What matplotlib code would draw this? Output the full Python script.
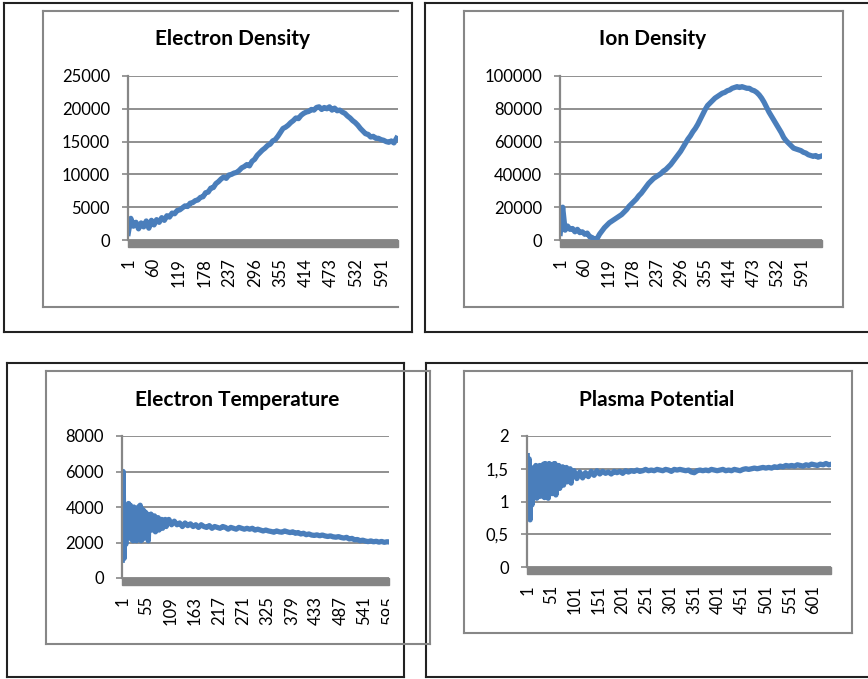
import numpy as np
import matplotlib
matplotlib.use('Agg')
import matplotlib.pyplot as plt
from matplotlib.patches import Rectangle
from matplotlib.transforms import Bbox, TransformedBbox

plt.rcParams['font.family'] = ['Lato', 'DejaVu Sans']

# electron density, every 6th sample starting at 1
ne = [1000, 3300, 2100, 2700, 1700, 2600, 2000, 2900, 1800, 3000,
      2300, 3100, 2700, 3400, 3000, 3700, 3500, 4100, 4000, 4500,
      4600, 4900, 5200, 5100, 5600, 5700, 6000, 6100, 6500, 6600,
      7200, 7300, 7900, 8000, 8600, 8900, 9300, 9600, 9400, 9900,
      10000, 10200, 10300, 10600, 11000, 11200, 11500, 11300, 12000, 12300,
      12900, 13300, 13700, 14000, 14400, 14600, 15100, 15300, 15800, 16400,
      17000, 17200, 17500, 17900, 18200, 18600, 18500, 19000, 19300, 19500,
      19600, 19900, 19800, 20200, 20300, 19900, 20200, 20000, 20300, 19800,
      20100, 19700, 19800, 19500, 19300, 18900, 18600, 18200, 17900, 17500,
      17000, 16600, 16200, 16100, 15700, 15800, 15500, 15500, 15300, 15200,
      15000, 14900, 15100, 14800, 15500]

# ion density, every 6th sample starting at 1
ni = [4000, 20000, 6000, 8500, 6500, 7000, 5000, 6500, 4500, 5000,
      3500, 4200, 2000, 1500, 300, 800, 3500, 5500, 7500, 9000,
      10500, 11500, 12500, 13500, 14500, 15500, 17000, 18500, 20500, 22000,
      23500, 25000, 27000, 28500, 30500, 32500, 34500, 36000, 37500, 38500,
      39500, 40500, 42000, 43000, 44500, 46000, 48000, 50000, 52000, 54000,
      56500, 59000, 61500, 63500, 66000, 68000, 70500, 73500, 76500, 79500,
      82000, 83500, 85000, 86500, 87500, 88500, 89500, 90000, 91000, 91500,
      92500, 93000, 93500, 93000, 93500, 93000, 92500, 92500, 91500, 91000,
      90000, 88500, 86500, 84000, 81000, 78000, 75500, 73000, 70500, 68000,
      65500, 62500, 60500, 59000, 57500, 56000, 55500, 55000, 54500, 53500,
      53000, 52000, 51500, 51000, 51500, 50500, 51000]

# electron temperature: every 2nd sample up to 99, then every 6th
te_early = [1000, 6000, 1100, 3500, 1900, 3800, 3000, 4200, 3600, 4100,
            2200, 3900, 2100, 4000, 3500, 3900, 2100, 3700, 4000, 3300,
            4100, 2100, 3900, 2200, 3800, 3300, 3700, 2400, 3600, 2100,
            3500, 2900, 3600, 2700, 3400, 3000, 3500, 2600, 3300, 3000,
            3400, 2700, 3300, 3100, 3300, 2800, 3200, 3000, 3300, 2900]
te_late = [3300, 3000, 3200, 3000, 3100, 2900, 3100, 2950, 3050, 2900,
           3000, 2850, 3000, 2900, 2850, 2950, 2800, 2900, 2850, 2800,
           2900, 2850, 2750, 2850, 2800, 2750, 2850, 2800, 2750, 2800,
           2750, 2800, 2700, 2750, 2700, 2650, 2700, 2650, 2620, 2580,
           2650, 2600, 2580, 2650, 2600, 2560, 2600, 2520, 2560, 2480,
           2520, 2440, 2480, 2420, 2400, 2430, 2380, 2420, 2370, 2340,
           2370, 2320, 2300, 2330, 2280, 2250, 2290, 2200, 2230, 2150,
           2170, 2100, 2130, 2080, 2050, 2090, 2040, 2070, 2020, 2060,
           2010, 2040, 2030]

# plasma potential: every 2nd sample up to 99, then every 6th
vp_early = [1.70, 0.75, 1.65, 0.72, 1.35, 0.95, 1.45, 1.52, 1.30, 1.55,
            1.05, 1.50, 1.40, 1.55, 1.08, 1.52, 1.35, 1.57, 1.06, 1.58,
            1.45, 1.56, 1.05, 1.58, 1.50, 1.55, 1.12, 1.57, 1.45, 1.58,
            1.10, 1.52, 1.40, 1.55, 1.20, 1.50, 1.45, 1.53, 1.25, 1.50,
            1.40, 1.52, 1.30, 1.48, 1.35, 1.50, 1.28, 1.45, 1.38, 1.47]
vp_late = [1.35, 1.45, 1.36, 1.44, 1.38, 1.46, 1.40, 1.47, 1.42, 1.46,
           1.43, 1.45, 1.42, 1.46, 1.44, 1.46, 1.43, 1.47, 1.45, 1.47,
           1.46, 1.48, 1.46, 1.47, 1.49, 1.47, 1.48, 1.47, 1.49, 1.48,
           1.47, 1.49, 1.48, 1.46, 1.49, 1.48, 1.49, 1.48, 1.47, 1.48,
           1.45, 1.44, 1.47, 1.48, 1.47, 1.48, 1.47, 1.49, 1.48, 1.47,
           1.48, 1.49, 1.47, 1.48, 1.47, 1.49, 1.48, 1.47, 1.49, 1.50,
           1.49, 1.50, 1.51, 1.50, 1.51, 1.52, 1.51, 1.52, 1.51, 1.53,
           1.52, 1.54, 1.53, 1.55, 1.54, 1.55, 1.54, 1.56, 1.55, 1.54,
           1.56, 1.55, 1.57, 1.56, 1.55, 1.57, 1.56, 1.58, 1.56, 1.57]

W, H = 868, 679
BLUE = '#4a7ebb'
GRAY = '#878787'

fig = plt.figure(figsize=(W / 100, H / 100), dpi=100)


def rect(x0, y0, x1, y1, color, lw, sides='lrtb'):
    # draw a box in pixel coords (y down)
    pts = {'l': ([x0, x0], [y0, y1]), 'r': ([x1, x1], [y0, y1]),
           't': ([x0, x1], [y0, y0]), 'b': ([x0, x1], [y1, y1])}
    for s in sides:
        xs, ys = pts[s]
        fig.add_artist(plt.Line2D([x / W for x in xs], [1 - y / H for y in ys],
                                  color=color, lw=lw, transform=fig.transFigure))


# outer document boxes
rect(4, 3, 412, 332, '#222222', 1.5)
rect(425, 3, 870, 332, '#222222', 1.5)
rect(7, 363, 404, 677, '#222222', 1.5)
rect(426, 363, 870, 677, '#222222', 1.5)
# chart frames
rect(43, 11, 398, 307, GRAY, 1.5, 'ltb')
rect(464, 11, 843, 307, GRAY, 1.5)
rect(46, 371, 430, 644, GRAY, 1.5)
rect(464, 371, 852, 633, GRAY, 1.5)


def panel(l, t, r, b, x, y, xmax, ymax, yticks, ylabels, xticks, title, tx, ty):
    ax = fig.add_axes([l / W, 1 - b / H, (r - l) / W, (b - t) / H])
    ax.plot(x, y, color=BLUE, lw=3.8, solid_joinstyle='round')
    ax.set_xlim(0.5, xmax)
    ax.set_ylim(0, ymax)
    ax.set_yticks(yticks)
    ax.set_yticklabels(ylabels)
    ax.set_xticks(xticks)
    ax.set_xticklabels([str(v) for v in xticks], rotation=90)
    for s in ['top', 'right', 'bottom']:
        ax.spines[s].set_visible(False)
    ax.spines['left'].set_color(GRAY)
    ax.spines['left'].set_linewidth(1.6)
    ax.grid(axis='y', color=GRAY, lw=1.3)
    ax.set_axisbelow(True)
    ax.tick_params(axis='y', length=4, width=1.2, color=GRAY, pad=9, labelsize=12)
    ax.tick_params(axis='x', length=0, pad=13, labelsize=12)
    # thick grey category axis under zero
    ax.add_patch(Rectangle((0, -7 / (b - t)), 1, 7 / (b - t), transform=ax.transAxes,
                           color='#858585', clip_on=False, zorder=1))
    fig.text(tx / W, 1 - ty / H, title, ha='center', va='center',
             fontsize=15, fontweight='bold')
    return ax


x_ne = 1 + 6 * np.arange(len(ne))
x_ni = 1 + 6 * np.arange(len(ni))
x_te = np.concatenate([1 + 2 * np.arange(len(te_early)),
                       1 + 2 * (len(te_early) - 1) + 6 * np.arange(1, len(te_late) + 1)])
x_vp = np.concatenate([1 + 2 * np.arange(len(vp_early)),
                       1 + 2 * (len(vp_early) - 1) + 6 * np.arange(1, len(vp_late) + 1)])

panel(128, 76, 398, 240, x_ne, ne, 628.5, 25000, np.arange(0, 25001, 5000),
      [str(v) for v in range(0, 25001, 5000)], np.arange(1, 600, 59),
      'Electron Density', 233, 39)
panel(560, 76, 822, 240, x_ni, ni, 640.5, 100000, np.arange(0, 100001, 20000),
      [str(v) for v in range(0, 100001, 20000)], np.arange(1, 600, 59),
      'Ion Density', 653, 39)
ax3 = panel(122, 436, 389, 578, x_te, te_early + te_late, 595.5, 8000,
            np.arange(0, 8001, 2000), [str(v) for v in range(0, 8001, 2000)],
            np.arange(1, 600, 54), 'Electron Temperature', 237, 400)
panel(527, 436, 831, 567, x_vp, vp_early + vp_late, 637.5, 2,
      [0, 0.5, 1, 1.5, 2], ['0', '0,5', '1', '1,5', '2'], np.arange(1, 640, 50),
      'Plasma Potential', 657, 400)

# the last label of the temperature chart is cut at the plot edge
clip = TransformedBbox(Bbox([[0, 0], [389 / W, 1]]), fig.transFigure)
for lab in ax3.get_xticklabels():
    lab.set_clip_on(True)
    lab.set_clip_box(clip)

fig.savefig('out.png', dpi=100)
